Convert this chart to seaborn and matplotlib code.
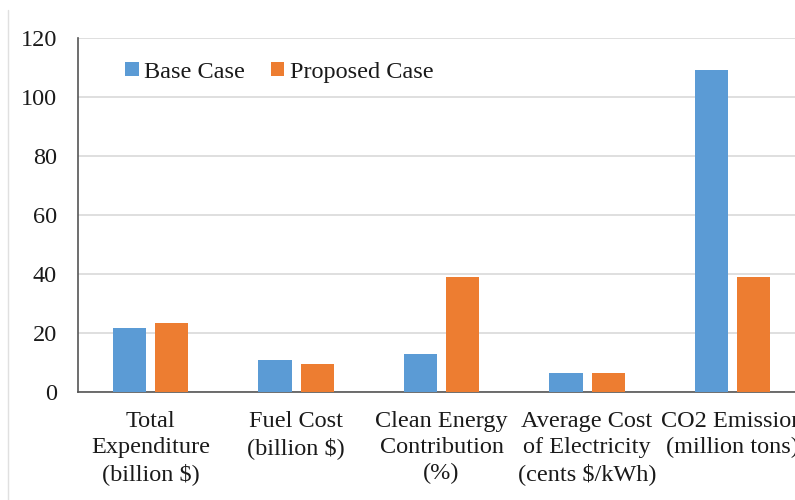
import pandas as pd
import seaborn as sns
import matplotlib.pyplot as plt
from matplotlib.lines import Line2D
from matplotlib.patches import Patch

categories = ['Total\nExpenditure\n(billion $)', 'Fuel Cost\n(billion $)',
              'Clean Energy\nContribution\n(%)', 'Average Cost\nof Electricity\n(cents $/kWh)',
              'CO2 Emission\n(million tons)']
base_case = [21.7, 10.9, 12.9, 6.5, 109.2]
proposed_case = [23.3, 9.5, 39.0, 6.5, 39.0]
series = ['Base Case', 'Proposed Case']
colors = ['#5B9BD5', '#ED7D31']

df = pd.DataFrame({
    'category': categories * 2,
    'value': base_case + proposed_case,
    'case': [series[0]] * len(categories) + [series[1]] * len(categories),
})

sns.set_style('white')
plt.rcParams['font.family'] = ['Liberation Serif', 'DejaVu Serif']

fig = plt.figure(figsize=(7.95, 5), dpi=100)
ax = fig.add_axes([0.098, 0.216, 0.915, 0.708])
sns.barplot(data=df, x='category', y='value', hue='case', palette=colors,
            saturation=1, linewidth=0, width=0.58, gap=0.21, ax=ax,
            legend=False, zorder=3)

ax.set_ylim(0, 120)
ax.set_yticks(range(0, 121, 20))
ax.set_xlim(-0.5, len(categories) - 0.5)
ax.yaxis.grid(True, color='#D9D9D9', linewidth=1.2, zorder=0)
ax.set_axisbelow(True)
ax.set_xlabel('')
ax.set_ylabel('')
ax.tick_params(axis='both', length=0, labelsize=17.5, colors='#1a1a1a')
ax.tick_params(axis='y', pad=15)
ax.tick_params(axis='x', pad=14)
for lbl in ax.get_xticklabels():
    lbl.set_linespacing(1.3)
for s in ['top', 'right']:
    ax.spines[s].set_visible(False)
for s in ['left', 'bottom']:
    ax.spines[s].set_color('#555555')
    ax.spines[s].set_linewidth(1.2)

handles = [Patch(facecolor=c, edgecolor='none') for c in colors]
leg = ax.legend(handles, series, ncol=2, frameon=False, fontsize=17.5,
                loc='upper left', bbox_to_anchor=(0.035, 0.995),
                handlelength=0.55, handleheight=0.55, handletextpad=0.23,
                columnspacing=1.05)
for t in leg.get_texts():
    t.set_color('#1a1a1a')

fig.add_artist(Line2D([0.01, 0.01], [0, 0.98], color='#E0E0E0', linewidth=1))

fig.savefig('out.png', dpi=100)
